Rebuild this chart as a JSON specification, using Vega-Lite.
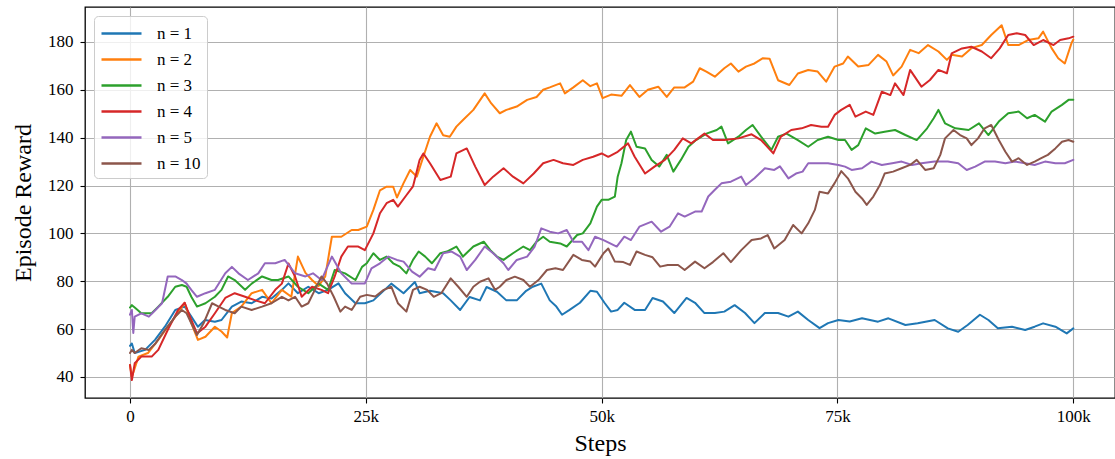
{
  "$schema": "https://vega.github.io/schema/vega-lite/v6.json",
  "width": 1030,
  "height": 391,
  "autosize": {"type": "none"},
  "padding": {"left": 85, "top": 7, "right": 0, "bottom": 61},
  "background": "white",
  "config": {
    "font": "Liberation Serif",
    "view": {"stroke": "black", "strokeWidth": 1.3},
    "axis": {
      "grid": true, "gridColor": "#b0b0b0", "gridWidth": 1.1,
      "domain": false, "tickColor": "black", "tickWidth": 1.1, "tickSize": 5,
      "labelFont": "Liberation Serif", "labelFontSize": 17, "labelColor": "black",
      "titleFont": "Liberation Serif", "titleFontSize": 24, "titleFontWeight": "normal", "titleColor": "black"
    }
  },
  "data": {"values": [
    {"n":1,"x":0,"y":53},{"n":1,"x":0.2,"y":54},{"n":1,"x":0.5,"y":50},{"n":1,"x":1.6,"y":51.3},{"n":1,"x":2.65,"y":55.5},{"n":1,"x":3.7,"y":61},{"n":1,"x":4.8,"y":68},{"n":1,"x":5.8,"y":69.4},{"n":1,"x":6.5,"y":65.2},{"n":1,"x":7.2,"y":61},{"n":1,"x":7.95,"y":63.8},{"n":1,"x":9,"y":63.1},{"n":1,"x":9.7,"y":63.8},{"n":1,"x":10.8,"y":69.4},{"n":1,"x":11.8,"y":71.5},{"n":1,"x":12.9,"y":70.8},{"n":1,"x":14,"y":73.5},{"n":1,"x":15,"y":72.8},{"n":1,"x":16.1,"y":76.4},{"n":1,"x":16.8,"y":79.1},{"n":1,"x":17.8,"y":75},{"n":1,"x":18.9,"y":77.7},{"n":1,"x":20,"y":75},{"n":1,"x":21,"y":76.4},{"n":1,"x":22.1,"y":79.1},{"n":1,"x":22.8,"y":75},{"n":1,"x":23.9,"y":70.8},{"n":1,"x":24.9,"y":70.8},{"n":1,"x":25.8,"y":72},{"n":1,"x":27.7,"y":79},{"n":1,"x":29,"y":75},{"n":1,"x":30.2,"y":79.7},{"n":1,"x":30.7,"y":75},{"n":1,"x":31.8,"y":76},{"n":1,"x":33.2,"y":75},{"n":1,"x":34,"y":72},{"n":1,"x":35,"y":68},{"n":1,"x":36,"y":73.4},{"n":1,"x":37.1,"y":72},{"n":1,"x":37.8,"y":77.6},{"n":1,"x":38.9,"y":75.6},{"n":1,"x":39.9,"y":72},{"n":1,"x":41,"y":72},{"n":1,"x":42,"y":76},{"n":1,"x":42.7,"y":77.7},{"n":1,"x":43.6,"y":79},{"n":1,"x":44.5,"y":72},{"n":1,"x":45.2,"y":69.4},{"n":1,"x":45.8,"y":66},{"n":1,"x":46.6,"y":68},{"n":1,"x":47.7,"y":71},{"n":1,"x":48.8,"y":76},{"n":1,"x":49.5,"y":75.6},{"n":1,"x":50.3,"y":71},{"n":1,"x":51,"y":67.3},{"n":1,"x":51.7,"y":68},{"n":1,"x":52.4,"y":71},{"n":1,"x":53.5,"y":68},{"n":1,"x":54.6,"y":68},{"n":1,"x":55.4,"y":73},{"n":1,"x":56.5,"y":71.5},{"n":1,"x":57.7,"y":66.7},{"n":1,"x":59,"y":73},{"n":1,"x":59.9,"y":71},{"n":1,"x":60.9,"y":66.7},{"n":1,"x":62,"y":66.7},{"n":1,"x":63,"y":67.3},{"n":1,"x":64.1,"y":70},{"n":1,"x":65.2,"y":66.7},{"n":1,"x":66.2,"y":62.5},{"n":1,"x":67.3,"y":66.7},{"n":1,"x":68.7,"y":66.7},{"n":1,"x":69.8,"y":65.2},{"n":1,"x":70.8,"y":67.3},{"n":1,"x":71.9,"y":63.8},{"n":1,"x":73.1,"y":60.4},{"n":1,"x":74,"y":62.5},{"n":1,"x":75.1,"y":63.8},{"n":1,"x":76.3,"y":63.2},{"n":1,"x":77.6,"y":64.5},{"n":1,"x":79.3,"y":63.1},{"n":1,"x":80.4,"y":64.5},{"n":1,"x":82.2,"y":61.7},{"n":1,"x":83.5,"y":62.4},{"n":1,"x":85.3,"y":63.8},{"n":1,"x":86.7,"y":60.3},{"n":1,"x":87.8,"y":58.9},{"n":1,"x":88.8,"y":61.7},{"n":1,"x":90.1,"y":66},{"n":1,"x":91,"y":63.8},{"n":1,"x":92,"y":60.3},{"n":1,"x":93.5,"y":61},{"n":1,"x":94.9,"y":59.6},{"n":1,"x":95.9,"y":61},{"n":1,"x":96.8,"y":62.4},{"n":1,"x":98.1,"y":61},{"n":1,"x":99.3,"y":58.2},{"n":1,"x":100,"y":60.3},

    {"n":2,"x":0,"y":45},{"n":2,"x":0.2,"y":40},{"n":2,"x":0.9,"y":48.5},{"n":2,"x":1.9,"y":50},{"n":2,"x":3,"y":55.5},{"n":2,"x":4,"y":61},{"n":2,"x":5.1,"y":66.7},{"n":2,"x":5.8,"y":71},{"n":2,"x":6.5,"y":62.5},{"n":2,"x":7.2,"y":55.5},{"n":2,"x":8,"y":56.8},{"n":2,"x":9,"y":61},{"n":2,"x":9.7,"y":59},{"n":2,"x":10.3,"y":56.5},{"n":2,"x":10.8,"y":66.7},{"n":2,"x":11.8,"y":69.4},{"n":2,"x":12.9,"y":75},{"n":2,"x":14,"y":76.4},{"n":2,"x":15,"y":70.8},{"n":2,"x":16.1,"y":76.4},{"n":2,"x":17.1,"y":73.5},{"n":2,"x":17.8,"y":90.3},{"n":2,"x":18.6,"y":83.5},{"n":2,"x":19.3,"y":80.5},{"n":2,"x":20,"y":78},{"n":2,"x":20.7,"y":82},{"n":2,"x":21.4,"y":98.6},{"n":2,"x":22.4,"y":98.6},{"n":2,"x":23.5,"y":101.4},{"n":2,"x":24.2,"y":101.4},{"n":2,"x":25.1,"y":102.8},{"n":2,"x":25.8,"y":109.8},{"n":2,"x":26.5,"y":118},{"n":2,"x":27.2,"y":119.5},{"n":2,"x":27.9,"y":119.5},{"n":2,"x":28.3,"y":115},{"n":2,"x":29,"y":121},{"n":2,"x":29.7,"y":126.5},{"n":2,"x":30.4,"y":123.7},{"n":2,"x":31.1,"y":132},{"n":2,"x":31.8,"y":140.4},{"n":2,"x":32.5,"y":146},{"n":2,"x":33.2,"y":141},{"n":2,"x":33.9,"y":140.4},{"n":2,"x":34.6,"y":144.6},{"n":2,"x":35.3,"y":147.4},{"n":2,"x":36.4,"y":151.6},{"n":2,"x":37.6,"y":158.5},{"n":2,"x":38.3,"y":154.3},{"n":2,"x":39.2,"y":150.2},{"n":2,"x":39.9,"y":151.6},{"n":2,"x":41,"y":153},{"n":2,"x":42.1,"y":155.8},{"n":2,"x":43.1,"y":157},{"n":2,"x":43.8,"y":160},{"n":2,"x":44.5,"y":161},{"n":2,"x":45.6,"y":162.7},{"n":2,"x":46.1,"y":158.5},{"n":2,"x":47,"y":161},{"n":2,"x":48,"y":164},{"n":2,"x":48.8,"y":161.5},{"n":2,"x":49.5,"y":162.7},{"n":2,"x":50.1,"y":156.5},{"n":2,"x":51,"y":158},{"n":2,"x":52.1,"y":157.5},{"n":2,"x":53,"y":162},{"n":2,"x":54,"y":157},{"n":2,"x":54.9,"y":160},{"n":2,"x":56,"y":161.3},{"n":2,"x":56.9,"y":157},{"n":2,"x":57.7,"y":161},{"n":2,"x":58.8,"y":161},{"n":2,"x":59.7,"y":163.4},{"n":2,"x":60.4,"y":169},{"n":2,"x":61.1,"y":167.6},{"n":2,"x":62,"y":165.5},{"n":2,"x":63,"y":169},{"n":2,"x":63.7,"y":171},{"n":2,"x":64.5,"y":167.6},{"n":2,"x":65.3,"y":169.7},{"n":2,"x":66.2,"y":171},{"n":2,"x":67.1,"y":173.2},{"n":2,"x":67.8,"y":173},{"n":2,"x":68.7,"y":164},{"n":2,"x":69.9,"y":162},{"n":2,"x":70.8,"y":166.8},{"n":2,"x":71.9,"y":168.3},{"n":2,"x":72.9,"y":167.6},{"n":2,"x":73.8,"y":163.4},{"n":2,"x":74.7,"y":169.7},{"n":2,"x":75.6,"y":171},{"n":2,"x":76.1,"y":173.9},{"n":2,"x":77.2,"y":169.7},{"n":2,"x":78.3,"y":170.4},{"n":2,"x":79.3,"y":174.6},{"n":2,"x":80.2,"y":171.8},{"n":2,"x":80.9,"y":166},{"n":2,"x":81.8,"y":169.7},{"n":2,"x":82.7,"y":176.7},{"n":2,"x":83.6,"y":175.3},{"n":2,"x":84.6,"y":178.7},{"n":2,"x":85.7,"y":176},{"n":2,"x":86.6,"y":172.5},{"n":2,"x":87.1,"y":174.6},{"n":2,"x":88.2,"y":173.9},{"n":2,"x":89.2,"y":177.4},{"n":2,"x":90.3,"y":178.7},{"n":2,"x":91.3,"y":182.9},{"n":2,"x":92.4,"y":187},{"n":2,"x":93.1,"y":178.7},{"n":2,"x":94.2,"y":178.7},{"n":2,"x":95.2,"y":180.8},{"n":2,"x":96.3,"y":181.5},{"n":2,"x":96.8,"y":184.3},{"n":2,"x":97.7,"y":177.4},{"n":2,"x":98.4,"y":173.2},{"n":2,"x":99.1,"y":171},{"n":2,"x":99.8,"y":179.4},{"n":2,"x":100,"y":181},

    {"n":3,"x":0,"y":69},{"n":3,"x":0.2,"y":70},{"n":3,"x":0.5,"y":69},{"n":3,"x":1.2,"y":66.6},{"n":3,"x":2.3,"y":66.6},{"n":3,"x":3,"y":69.4},{"n":3,"x":4,"y":73.5},{"n":3,"x":4.8,"y":77.7},{"n":3,"x":5.5,"y":78.4},{"n":3,"x":6,"y":77.7},{"n":3,"x":6.5,"y":73.5},{"n":3,"x":7.1,"y":69.4},{"n":3,"x":8,"y":70.8},{"n":3,"x":9,"y":73.5},{"n":3,"x":9.7,"y":76.4},{"n":3,"x":10.4,"y":82},{"n":3,"x":11.1,"y":80.5},{"n":3,"x":12.2,"y":76.4},{"n":3,"x":12.9,"y":79},{"n":3,"x":14,"y":82},{"n":3,"x":15,"y":80.5},{"n":3,"x":15.7,"y":80.5},{"n":3,"x":16.8,"y":82},{"n":3,"x":17.8,"y":77.7},{"n":3,"x":18.9,"y":75},{"n":3,"x":20,"y":79},{"n":3,"x":21,"y":76.4},{"n":3,"x":21.7,"y":84.7},{"n":3,"x":22.8,"y":83.3},{"n":3,"x":23.9,"y":80.5},{"n":3,"x":24.6,"y":86},{"n":3,"x":25.1,"y":87.5},{"n":3,"x":25.8,"y":91.7},{"n":3,"x":26.5,"y":88.9},{"n":3,"x":27.2,"y":90.3},{"n":3,"x":27.9,"y":87.5},{"n":3,"x":28.6,"y":86.1},{"n":3,"x":29.3,"y":83.3},{"n":3,"x":30,"y":88.9},{"n":3,"x":30.6,"y":92.4},{"n":3,"x":31.3,"y":90.3},{"n":3,"x":32,"y":87.5},{"n":3,"x":32.9,"y":91.7},{"n":3,"x":33.6,"y":92.4},{"n":3,"x":34.6,"y":94.5},{"n":3,"x":35.3,"y":90.3},{"n":3,"x":36.4,"y":94.5},{"n":3,"x":37.5,"y":96.5},{"n":3,"x":38.2,"y":93},{"n":3,"x":38.9,"y":90.3},{"n":3,"x":39.6,"y":88.9},{"n":3,"x":40.6,"y":91.7},{"n":3,"x":41.7,"y":94.5},{"n":3,"x":42.4,"y":93},{"n":3,"x":43.1,"y":96.5},{"n":3,"x":43.8,"y":98.6},{"n":3,"x":44.5,"y":96.5},{"n":3,"x":45.6,"y":95.8},{"n":3,"x":46.3,"y":94.5},{"n":3,"x":47.4,"y":99.3},{"n":3,"x":48,"y":100},{"n":3,"x":48.8,"y":104.2},{"n":3,"x":49.5,"y":111.2},{"n":3,"x":50,"y":114},{"n":3,"x":50.7,"y":114},{"n":3,"x":51.4,"y":115.4},{"n":3,"x":51.7,"y":123.7},{"n":3,"x":52.1,"y":129.3},{"n":3,"x":52.6,"y":139},{"n":3,"x":53.1,"y":142.5},{"n":3,"x":53.7,"y":136.2},{"n":3,"x":54.6,"y":135.5},{"n":3,"x":55.3,"y":130.7},{"n":3,"x":56.1,"y":127.9},{"n":3,"x":56.9,"y":132.8},{"n":3,"x":57.6,"y":125.8},{"n":3,"x":58.4,"y":130.7},{"n":3,"x":59.2,"y":136.2},{"n":3,"x":60,"y":139},{"n":3,"x":61.1,"y":141.7},{"n":3,"x":62.2,"y":143.2},{"n":3,"x":62.7,"y":144.6},{"n":3,"x":63.4,"y":137.6},{"n":3,"x":64.5,"y":140.4},{"n":3,"x":65.3,"y":143.2},{"n":3,"x":66,"y":145.3},{"n":3,"x":66.9,"y":140.4},{"n":3,"x":68,"y":134.9},{"n":3,"x":68.7,"y":140.4},{"n":3,"x":69.6,"y":141.7},{"n":3,"x":70.8,"y":139},{"n":3,"x":71.9,"y":136.2},{"n":3,"x":72.9,"y":139},{"n":3,"x":74,"y":140.4},{"n":3,"x":75.1,"y":139},{"n":3,"x":75.8,"y":139},{"n":3,"x":76.5,"y":134.9},{"n":3,"x":77.2,"y":136.9},{"n":3,"x":78,"y":143.9},{"n":3,"x":79,"y":141.7},{"n":3,"x":80,"y":142.5},{"n":3,"x":81.1,"y":143.2},{"n":3,"x":82.2,"y":141.1},{"n":3,"x":83.4,"y":139},{"n":3,"x":84.5,"y":143.9},{"n":3,"x":85.2,"y":148.1},{"n":3,"x":85.7,"y":151.6},{"n":3,"x":86.4,"y":146},{"n":3,"x":87.5,"y":143.9},{"n":3,"x":88.9,"y":143.2},{"n":3,"x":90,"y":146},{"n":3,"x":91,"y":141.1},{"n":3,"x":92.1,"y":146.7},{"n":3,"x":93.1,"y":150.2},{"n":3,"x":94.2,"y":150.9},{"n":3,"x":95.1,"y":148.1},{"n":3,"x":95.9,"y":149.5},{"n":3,"x":97,"y":146.7},{"n":3,"x":97.7,"y":150.9},{"n":3,"x":98.8,"y":153.7},{"n":3,"x":99.5,"y":155.8},{"n":3,"x":100,"y":155.8},

    {"n":4,"x":0,"y":45},{"n":4,"x":0.2,"y":38.7},{"n":4,"x":0.5,"y":45.7},{"n":4,"x":1.2,"y":48.5},{"n":4,"x":2.3,"y":48.5},{"n":4,"x":3,"y":51.3},{"n":4,"x":4,"y":59.6},{"n":4,"x":5.1,"y":68},{"n":4,"x":5.8,"y":71},{"n":4,"x":6.5,"y":63.8},{"n":4,"x":7.1,"y":58.2},{"n":4,"x":8,"y":61},{"n":4,"x":9,"y":66.6},{"n":4,"x":10.1,"y":73},{"n":4,"x":11.1,"y":75},{"n":4,"x":12.2,"y":73.5},{"n":4,"x":13.3,"y":72},{"n":4,"x":14.3,"y":70.8},{"n":4,"x":15.4,"y":76.4},{"n":4,"x":16.1,"y":79},{"n":4,"x":16.8,"y":87.4},{"n":4,"x":17.5,"y":82},{"n":4,"x":18.2,"y":73.5},{"n":4,"x":19.3,"y":77.7},{"n":4,"x":20.3,"y":76.4},{"n":4,"x":21,"y":75},{"n":4,"x":21.7,"y":82},{"n":4,"x":22.4,"y":90.3},{"n":4,"x":23.1,"y":94.5},{"n":4,"x":24.2,"y":94.5},{"n":4,"x":24.9,"y":93},{"n":4,"x":25.8,"y":100},{"n":4,"x":26.5,"y":108.4},{"n":4,"x":27.2,"y":112.6},{"n":4,"x":27.9,"y":114},{"n":4,"x":28.4,"y":111.2},{"n":4,"x":29.2,"y":115.4},{"n":4,"x":30,"y":119.6},{"n":4,"x":30.7,"y":130.7},{"n":4,"x":31.1,"y":133.4},{"n":4,"x":31.8,"y":129.3},{"n":4,"x":32.9,"y":122.3},{"n":4,"x":34,"y":123.7},{"n":4,"x":34.6,"y":133.4},{"n":4,"x":35.7,"y":135.5},{"n":4,"x":36.6,"y":127.9},{"n":4,"x":37.6,"y":120.2},{"n":4,"x":38.5,"y":123.7},{"n":4,"x":39.6,"y":127.2},{"n":4,"x":40.6,"y":123.7},{"n":4,"x":41.7,"y":120.9},{"n":4,"x":42.8,"y":125},{"n":4,"x":43.8,"y":129.3},{"n":4,"x":44.9,"y":130.7},{"n":4,"x":45.9,"y":129.3},{"n":4,"x":47,"y":128.6},{"n":4,"x":48,"y":130.7},{"n":4,"x":49.1,"y":132},{"n":4,"x":50,"y":133.4},{"n":4,"x":50.7,"y":132},{"n":4,"x":51.7,"y":134.1},{"n":4,"x":52.8,"y":137.6},{"n":4,"x":53.5,"y":132},{"n":4,"x":54.6,"y":125},{"n":4,"x":55.6,"y":127.9},{"n":4,"x":56.7,"y":130.7},{"n":4,"x":57.7,"y":134.9},{"n":4,"x":58.6,"y":139.7},{"n":4,"x":59.5,"y":137.6},{"n":4,"x":60.9,"y":141.7},{"n":4,"x":61.8,"y":139},{"n":4,"x":63,"y":139},{"n":4,"x":64.5,"y":139.7},{"n":4,"x":65.9,"y":141.4},{"n":4,"x":66.9,"y":139},{"n":4,"x":68.2,"y":133.4},{"n":4,"x":69,"y":140.4},{"n":4,"x":70.1,"y":143.2},{"n":4,"x":71.2,"y":143.9},{"n":4,"x":72.2,"y":145.3},{"n":4,"x":73.3,"y":144.6},{"n":4,"x":74,"y":144.6},{"n":4,"x":74.7,"y":149.5},{"n":4,"x":75.4,"y":151.6},{"n":4,"x":76.3,"y":153.7},{"n":4,"x":76.9,"y":148.8},{"n":4,"x":78,"y":150.9},{"n":4,"x":78.8,"y":149.5},{"n":4,"x":79.7,"y":159.2},{"n":4,"x":80.6,"y":157.8},{"n":4,"x":81.1,"y":162.7},{"n":4,"x":82,"y":157.8},{"n":4,"x":82.7,"y":168.3},{"n":4,"x":83.9,"y":161.3},{"n":4,"x":84.8,"y":164.1},{"n":4,"x":85.7,"y":168.3},{"n":4,"x":86.6,"y":166.9},{"n":4,"x":87.1,"y":175.2},{"n":4,"x":88.2,"y":177.3},{"n":4,"x":89.2,"y":178},{"n":4,"x":90.3,"y":176},{"n":4,"x":91.3,"y":173.2},{"n":4,"x":92.2,"y":177.3},{"n":4,"x":93.1,"y":182.9},{"n":4,"x":94,"y":183.6},{"n":4,"x":94.9,"y":182.9},{"n":4,"x":95.8,"y":178.7},{"n":4,"x":96.8,"y":180.8},{"n":4,"x":97.9,"y":178.7},{"n":4,"x":98.6,"y":180.8},{"n":4,"x":99.5,"y":181.5},{"n":4,"x":100,"y":182.2},

    {"n":5,"x":0,"y":66},{"n":5,"x":0.2,"y":68},{"n":5,"x":0.35,"y":58.4},{"n":5,"x":0.5,"y":65.2},{"n":5,"x":1.2,"y":66.6},{"n":5,"x":2,"y":65.2},{"n":5,"x":2.7,"y":68},{"n":5,"x":3.4,"y":70.8},{"n":5,"x":4,"y":82},{"n":5,"x":4.8,"y":82},{"n":5,"x":5.5,"y":80.5},{"n":5,"x":6,"y":79},{"n":5,"x":6.5,"y":76.4},{"n":5,"x":7.1,"y":73.5},{"n":5,"x":8,"y":75},{"n":5,"x":9,"y":76.4},{"n":5,"x":10.1,"y":83.3},{"n":5,"x":10.8,"y":86},{"n":5,"x":11.5,"y":83.3},{"n":5,"x":12.5,"y":80.5},{"n":5,"x":13.6,"y":83.3},{"n":5,"x":14.3,"y":87.5},{"n":5,"x":15.4,"y":87.5},{"n":5,"x":16.4,"y":88.9},{"n":5,"x":17.5,"y":83.3},{"n":5,"x":18.6,"y":82},{"n":5,"x":19.4,"y":83.3},{"n":5,"x":20.3,"y":80.5},{"n":5,"x":21.4,"y":90.3},{"n":5,"x":22.4,"y":83.3},{"n":5,"x":23.5,"y":79},{"n":5,"x":24.2,"y":79},{"n":5,"x":24.9,"y":79.1},{"n":5,"x":25.6,"y":85.4},{"n":5,"x":26.5,"y":87.5},{"n":5,"x":27.4,"y":90.3},{"n":5,"x":28.3,"y":88.9},{"n":5,"x":29,"y":88.2},{"n":5,"x":29.9,"y":84},{"n":5,"x":30.7,"y":81.9},{"n":5,"x":31.6,"y":85.4},{"n":5,"x":32.3,"y":84.7},{"n":5,"x":33.2,"y":91.7},{"n":5,"x":34.1,"y":92.4},{"n":5,"x":35,"y":90.3},{"n":5,"x":35.7,"y":84.7},{"n":5,"x":36.6,"y":88.9},{"n":5,"x":37.6,"y":94.5},{"n":5,"x":38.5,"y":91.7},{"n":5,"x":39.6,"y":87.5},{"n":5,"x":40.1,"y":84.7},{"n":5,"x":41,"y":88.9},{"n":5,"x":42.1,"y":90.3},{"n":5,"x":42.9,"y":94.5},{"n":5,"x":43.6,"y":102.1},{"n":5,"x":44.5,"y":100.7},{"n":5,"x":45.4,"y":100},{"n":5,"x":46.3,"y":101.4},{"n":5,"x":47,"y":96.5},{"n":5,"x":47.9,"y":96.5},{"n":5,"x":48.6,"y":93},{"n":5,"x":49.3,"y":98.6},{"n":5,"x":50.2,"y":97.2},{"n":5,"x":51.6,"y":94.5},{"n":5,"x":52.4,"y":98.6},{"n":5,"x":53.1,"y":97.2},{"n":5,"x":54,"y":102.8},{"n":5,"x":55.3,"y":104.9},{"n":5,"x":56.3,"y":100.7},{"n":5,"x":57.2,"y":102.8},{"n":5,"x":58.1,"y":108.4},{"n":5,"x":58.8,"y":107},{"n":5,"x":59.9,"y":109.1},{"n":5,"x":60.6,"y":109.1},{"n":5,"x":61.3,"y":115.4},{"n":5,"x":62,"y":118.2},{"n":5,"x":62.7,"y":120.9},{"n":5,"x":63.7,"y":121.6},{"n":5,"x":64.8,"y":123.7},{"n":5,"x":65.3,"y":120.2},{"n":5,"x":66.2,"y":123},{"n":5,"x":67.3,"y":127.2},{"n":5,"x":68.3,"y":126.5},{"n":5,"x":68.9,"y":128},{"n":5,"x":69.8,"y":123},{"n":5,"x":70.6,"y":125},{"n":5,"x":71.3,"y":125.8},{"n":5,"x":71.9,"y":129.3},{"n":5,"x":72.9,"y":129.3},{"n":5,"x":74,"y":129.3},{"n":5,"x":75.1,"y":128.6},{"n":5,"x":75.8,"y":127.9},{"n":5,"x":76.5,"y":126.5},{"n":5,"x":77.6,"y":127.2},{"n":5,"x":78.6,"y":130},{"n":5,"x":79.7,"y":128.6},{"n":5,"x":80.8,"y":129.3},{"n":5,"x":81.8,"y":130},{"n":5,"x":82.9,"y":128.6},{"n":5,"x":83.9,"y":129.3},{"n":5,"x":85.3,"y":130},{"n":5,"x":86.7,"y":130},{"n":5,"x":87.8,"y":129.3},{"n":5,"x":88.7,"y":126.5},{"n":5,"x":89.6,"y":127.9},{"n":5,"x":90.6,"y":130},{"n":5,"x":91.7,"y":130},{"n":5,"x":92.8,"y":129.3},{"n":5,"x":93.8,"y":130},{"n":5,"x":94.9,"y":129.3},{"n":5,"x":95.9,"y":128.6},{"n":5,"x":97,"y":130},{"n":5,"x":98.1,"y":129.3},{"n":5,"x":99.1,"y":129.3},{"n":5,"x":100,"y":130.7},

    {"n":10,"x":0,"y":50},{"n":10,"x":0.2,"y":51.3},{"n":10,"x":0.5,"y":50},{"n":10,"x":1.2,"y":52},{"n":10,"x":2,"y":51.3},{"n":10,"x":2.7,"y":54},{"n":10,"x":3.7,"y":59.6},{"n":10,"x":4.8,"y":65.2},{"n":10,"x":5.5,"y":68},{"n":10,"x":6,"y":66.6},{"n":10,"x":6.5,"y":62.4},{"n":10,"x":7.1,"y":57.5},{"n":10,"x":7.8,"y":62.4},{"n":10,"x":8.7,"y":70.8},{"n":10,"x":9.4,"y":69.4},{"n":10,"x":10.1,"y":68},{"n":10,"x":11.1,"y":66.6},{"n":10,"x":11.8,"y":69.4},{"n":10,"x":12.9,"y":68},{"n":10,"x":14,"y":69.4},{"n":10,"x":15,"y":70.8},{"n":10,"x":16.1,"y":73.5},{"n":10,"x":16.8,"y":72},{"n":10,"x":17.5,"y":73.5},{"n":10,"x":18.2,"y":69.4},{"n":10,"x":18.9,"y":70.8},{"n":10,"x":19.6,"y":76.4},{"n":10,"x":20.3,"y":82},{"n":10,"x":20.9,"y":79},{"n":10,"x":21.6,"y":73.5},{"n":10,"x":22.3,"y":67.3},{"n":10,"x":22.8,"y":69.4},{"n":10,"x":23.5,"y":68},{"n":10,"x":24.4,"y":73.5},{"n":10,"x":25.1,"y":74.3},{"n":10,"x":26,"y":73.6},{"n":10,"x":26.9,"y":76.4},{"n":10,"x":27.7,"y":77.7},{"n":10,"x":28.4,"y":70.8},{"n":10,"x":29.3,"y":67.3},{"n":10,"x":30,"y":76.4},{"n":10,"x":30.7,"y":77.7},{"n":10,"x":31.5,"y":76.4},{"n":10,"x":32.2,"y":73.5},{"n":10,"x":33,"y":75},{"n":10,"x":34,"y":81.2},{"n":10,"x":34.8,"y":77.7},{"n":10,"x":35.7,"y":73.5},{"n":10,"x":36.4,"y":77.7},{"n":10,"x":37.1,"y":79.8},{"n":10,"x":38,"y":81.2},{"n":10,"x":38.7,"y":76.4},{"n":10,"x":39.2,"y":77.7},{"n":10,"x":39.9,"y":80.5},{"n":10,"x":40.8,"y":81.9},{"n":10,"x":41.7,"y":80.5},{"n":10,"x":42.4,"y":77.7},{"n":10,"x":43.3,"y":80.5},{"n":10,"x":44.2,"y":84.7},{"n":10,"x":45.1,"y":85.4},{"n":10,"x":45.9,"y":84.7},{"n":10,"x":47,"y":91},{"n":10,"x":47.9,"y":88.9},{"n":10,"x":48.8,"y":88.2},{"n":10,"x":49.3,"y":86.1},{"n":10,"x":50.2,"y":91.7},{"n":10,"x":50.7,"y":93.7},{"n":10,"x":51.4,"y":88.2},{"n":10,"x":52.3,"y":88},{"n":10,"x":53,"y":86.8},{"n":10,"x":53.7,"y":92.4},{"n":10,"x":54.6,"y":91},{"n":10,"x":55.4,"y":90},{"n":10,"x":56.2,"y":86.1},{"n":10,"x":57,"y":86.8},{"n":10,"x":58.1,"y":86.8},{"n":10,"x":58.8,"y":84.7},{"n":10,"x":59.9,"y":88.2},{"n":10,"x":60.9,"y":85.4},{"n":10,"x":61.8,"y":88},{"n":10,"x":62.9,"y":91.7},{"n":10,"x":63.7,"y":88},{"n":10,"x":64.8,"y":93},{"n":10,"x":65.9,"y":97.2},{"n":10,"x":66.9,"y":97.9},{"n":10,"x":67.6,"y":99.3},{"n":10,"x":68.3,"y":93.7},{"n":10,"x":69.4,"y":97.2},{"n":10,"x":70.3,"y":103.5},{"n":10,"x":71.2,"y":100},{"n":10,"x":71.9,"y":104.2},{"n":10,"x":72.6,"y":109.8},{"n":10,"x":73.1,"y":117.4},{"n":10,"x":74,"y":116.7},{"n":10,"x":74.7,"y":121},{"n":10,"x":75.4,"y":126},{"n":10,"x":76.1,"y":123},{"n":10,"x":76.9,"y":117.4},{"n":10,"x":77.6,"y":114.6},{"n":10,"x":78.1,"y":111.9},{"n":10,"x":78.8,"y":115.4},{"n":10,"x":79.5,"y":120.2},{"n":10,"x":80,"y":125},{"n":10,"x":80.9,"y":125.8},{"n":10,"x":81.8,"y":127.2},{"n":10,"x":82.7,"y":128.6},{"n":10,"x":83.4,"y":130.7},{"n":10,"x":84.3,"y":126.5},{"n":10,"x":85.2,"y":127.2},{"n":10,"x":85.9,"y":132.8},{"n":10,"x":86.4,"y":139.7},{"n":10,"x":87.3,"y":143.2},{"n":10,"x":88,"y":141.1},{"n":10,"x":88.7,"y":139.7},{"n":10,"x":89.2,"y":136.9},{"n":10,"x":89.9,"y":139.7},{"n":10,"x":90.6,"y":143.9},{"n":10,"x":91.3,"y":145.3},{"n":10,"x":92.1,"y":139},{"n":10,"x":92.8,"y":134.1},{"n":10,"x":93.5,"y":130},{"n":10,"x":94.2,"y":131.4},{"n":10,"x":95.1,"y":128.6},{"n":10,"x":95.9,"y":130},{"n":10,"x":96.6,"y":131.4},{"n":10,"x":97.3,"y":132.8},{"n":10,"x":98.1,"y":135.5},{"n":10,"x":98.8,"y":138.3},{"n":10,"x":99.5,"y":139},{"n":10,"x":100,"y":138.3}
  ]},
  "mark": {"type": "line", "strokeWidth": 2, "strokeJoin": "round", "strokeCap": "round", "clip": true},
  "encoding": {
    "x": {
      "field": "x", "type": "quantitative",
      "scale": {"domain": [-4.77, 104.42], "nice": false, "zero": false},
      "axis": {"values": [0, 25, 50, 75, 100], "labelExpr": "datum.value == 0 ? '0' : datum.value + 'k'", "labelPadding": 5, "title": "Steps", "titlePadding": 7, "labelFlush": false}
    },
    "y": {
      "field": "y", "type": "quantitative",
      "scale": {"domain": [31.2, 194.6], "nice": false, "zero": false},
      "axis": {"values": [40, 60, 80, 100, 120, 140, 160, 180], "labelPadding": 7, "title": "Episode Reward", "titlePadding": 12}
    },
    "color": {
      "field": "n", "type": "nominal",
      "scale": {"domain": [1, 2, 3, 4, 5, 10], "range": ["#1f77b4", "#ff7f0e", "#2ca02c", "#d62728", "#9467bd", "#8c564b"]},
      "legend": {
        "title": null, "orient": "none", "legendX": 9, "legendY": 9,
        "padding": 6, "strokeColor": "#cccccc", "fillColor": "rgba(255,255,255,0.8)", "cornerRadius": 4,
        "symbolType": "M-1,0H3", "symbolSize": 400, "symbolStrokeWidth": 2.5,
        "labelOffset": 34, "rowPadding": 6, "labelFontSize": 17, "labelFont": "Liberation Serif", "labelColor": "black",
        "labelExpr": "'n = ' + datum.label"
      }
    }
  }
}
